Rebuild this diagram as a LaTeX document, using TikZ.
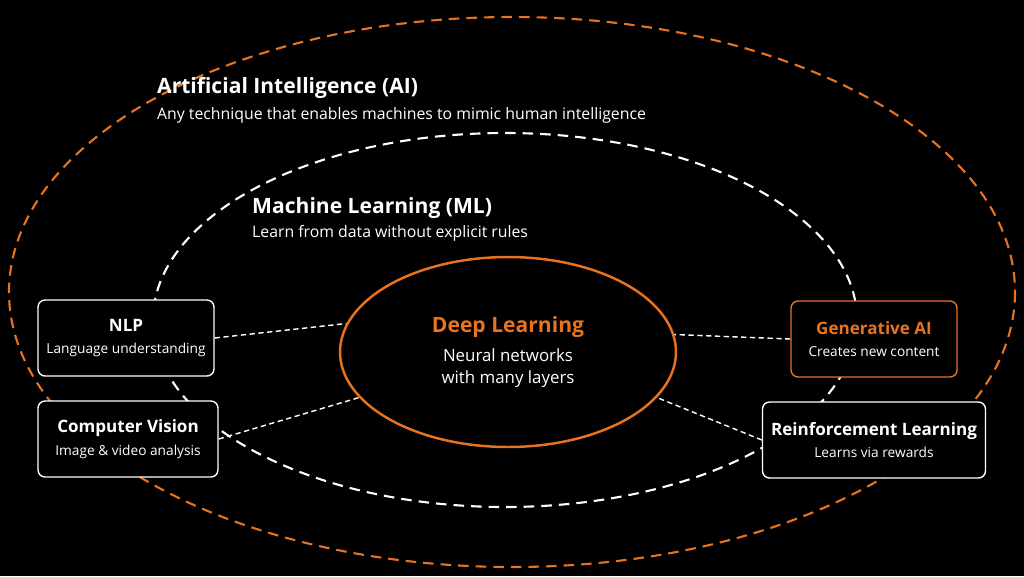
\documentclass[tikz,border=0pt]{standalone}
\usepackage{fontspec}
\setmainfont{Open Sans}
\usetikzlibrary{positioning,shapes.geometric}
\definecolor{accent}{HTML}{E8731E}
\tikzset{
	box/.style={draw=white, thick, fill=black, rounded corners=4pt, minimum height=1.52cm, align=center, text=white, font=\fontsize{7.8}{10}\selectfont, inner sep=2pt},
	link/.style={white, thick, dash pattern=on 3pt off 2pt},
	ring/.style={line width=1.2pt, dash pattern=on 6pt off 4pt},
	head/.style={font=\bfseries\fontsize{12}{15}\selectfont, text=white},
	sub/.style={font=\fontsize{9}{11}\selectfont, text=white},
}
\newcommand\boxtitle[1]{{\bfseries\fontsize{9.7}{12}\selectfont #1}}
\begin{document}
\begin{tikzpicture}[x=0.02cm, y=-0.02cm]
	\useasboundingbox[fill=black] (0,0) rectangle (1024,576);
	% rings
	\draw[accent, ring] (512,292) ellipse[x radius=503, y radius=275];
	\draw[white, ring] (505,320) ellipse[x radius=352, y radius=187];
	\node[head, anchor=west] (ai) at (151,88) {Artificial Intelligence (AI)};
	\node[sub, anchor=west] (aid) at (151,115) {Any technique that enables machines to mimic human intelligence};
	\node[head, anchor=west] (ml) at (246,208) {Machine Learning (ML)};
	\node[sub, anchor=west] (mld) at (246,233) {Learn from data without explicit rules};
	% core
	\node[draw=accent, line width=1.4pt, ellipse, minimum width=6.72cm, minimum height=3.8cm, align=center, text=white, inner sep=0pt, font=\fontsize{9.6}{12.5}\selectfont] (dl) at (508,352)
		{{\color{accent}\bfseries\fontsize{12}{15}\selectfont Deep Learning}\\[4pt]Neural networks\\with many layers};
	% fields
	\node[box, minimum width=3.52cm] (nlp) at (126,338) {\boxtitle{NLP}\\[3pt]Language understanding};
	\node[box, minimum width=3.6cm] (cv) at (128,439) {\boxtitle{Computer Vision}\\[3pt]Image \& video analysis};
	\node[box, draw=accent, minimum width=3.32cm] (gen) at (874,339) {\boxtitle{\color{accent}Generative AI}\\[3pt]Creates new content};
	\node[box, minimum width=4.46cm] (rl) at (874,440) {\boxtitle{Reinforcement Learning}\\[3pt]Learns via rewards};
	\draw[link] (nlp.east) -- (dl.170);
	\draw[link] (cv.east) -- (dl.197);
	\draw[link] (gen.west) -- (dl.6);
	\draw[link] (rl.west) -- (dl.-17);
\end{tikzpicture}
\end{document}
